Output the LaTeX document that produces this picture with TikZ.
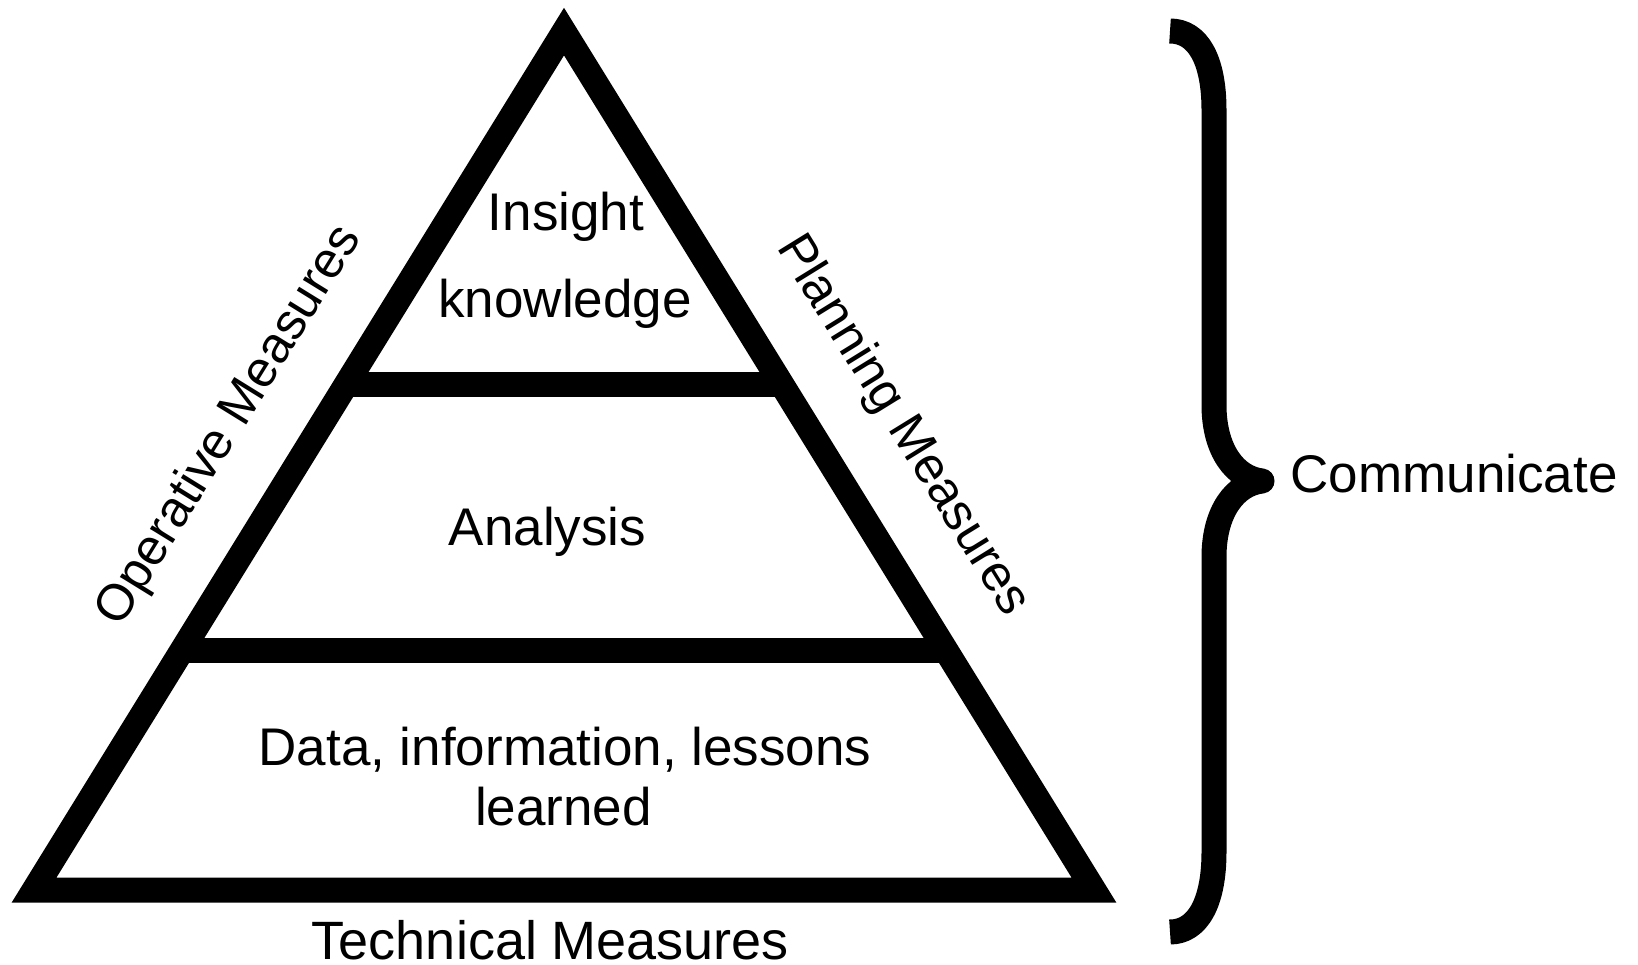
\documentclass[tikz,border=0pt]{standalone}
\usepackage{fontspec}
\setmainfont{Liberation Sans}
\usetikzlibrary{calc}
\begin{document}
\begin{tikzpicture}[x=1pt,y=-1pt,
  wall/.style={line width=25pt,line join=miter,black},
  bracestroke/.style={line width=25pt,line join=round,black},
  lbl/.style={inner sep=0pt,font=\fontsize{53}{60}\selectfont},
  sidelbl/.style={inner sep=0pt,font=\fontsize{51}{58}\selectfont}]
\useasboundingbox (0,0) rectangle (1638,965);
\fill[white] (0,0) rectangle (1638,965);
% pyramid corners (stroke centre lines)
\coordinate (apex) at (564,31.6);
\coordinate (bl) at (34.1,890);
\coordinate (br) at (1093.9,890);
\draw[wall] (bl) -- (apex) -- (br) -- cycle;
% level separators
\coordinate (u1) at ($(apex)!0.4111!(bl)$);
\coordinate (u2) at ($(apex)!0.4111!(br)$);
\coordinate (d1) at ($(apex)!0.721!(bl)$);
\coordinate (d2) at ($(apex)!0.721!(br)$);
\draw[wall,line cap=butt] (u1) -- (u2);
\draw[wall,line cap=butt] (d1) -- (d2);
% texts in levels
\node[lbl,anchor=base] (insight) at (566,231) {Insight};
\node[lbl,anchor=base] (knowledge) at (565,318) {knowledge};
\node[lbl,anchor=base] (analysis) at (547.5,545) {Analysis};
\node[lbl,anchor=base] (data) at (565,765) {Data, information, lessons};
\node[lbl,anchor=base] (learned) at (563.5,825) {learned};
% side labels
\node[sidelbl,rotate=58.3] (operative) at (230,426) {Operative Measures};
\node[sidelbl,rotate=-58.3] (planning) at (902,426) {Planning Measures};
\node[lbl,anchor=base,font=\fontsize{54}{60}\selectfont] (technical) at (550.5,959) {Technical Measures};
% brace
\coordinate (btop) at (1170,31);
\coordinate (btip) at (1262,481);
\coordinate (bbot) at (1170,932);
\draw[bracestroke] (btop) .. controls (1198,31) and (1214,60) .. (1214,110)
  -- (1214,405) .. controls (1214,450) and (1235,478) .. (btip)
  .. controls (1235,484) and (1214,512) .. (1214,557)
  -- (1214,852) .. controls (1214,902) and (1198,932) .. (bbot);
\node[lbl,anchor=base west] (communicate) at (1290.5,492) {Communicate};
\end{tikzpicture}
\end{document}
